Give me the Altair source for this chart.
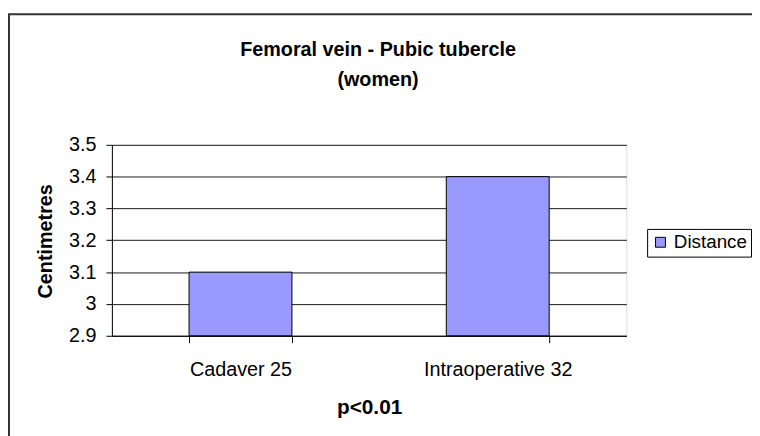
import altair as alt
import pandas as pd

categories = ["Cadaver 25", "Intraoperative 32"]
values = [3.1, 3.4]
series = ["Distance", "Distance"]
y_ticks = [2.9, 3.0, 3.1, 3.2, 3.3, 3.4, 3.5]

df = pd.DataFrame({"category": categories, "value": values, "series": series})

FONT = "Liberation Sans"

bars = alt.Chart(df).mark_bar(stroke="black", strokeWidth=1).encode(
    x=alt.X(
        "category:N",
        sort=categories,
        scale=alt.Scale(paddingInner=0.6, paddingOuter=0.3),
        axis=alt.Axis(
            title="p<0.01",
            labelAngle=0,
            labelFont=FONT,
            labelFontSize=20,
            labelColor="black",
            labelBaseline="alphabetic",
            labelPadding=33,
            tickBand="extent",
            tickSize=7,
            tickColor="black",
            domainColor="black",
            grid=False,
            titleFont=FONT,
            titleFontSize=21,
            titleFontWeight="bold",
            titleColor="black",
            titleBaseline="alphabetic",
            titleY=79,
        ),
    ),
    y=alt.Y(
        "value:Q",
        scale=alt.Scale(domain=[2.9, 3.5], nice=False, zero=False),
        axis=alt.Axis(
            title="Centimetres",
            values=y_ticks,
            format="~g",
            labelFont=FONT,
            labelFontSize=20,
            labelColor="black",
            labelPadding=10,
            tickSize=6,
            tickColor="black",
            domainColor="black",
            gridColor="#1a1a1a",
            gridWidth=1,
            titleFont=FONT,
            titleFontSize=20,
            titleFontWeight="bold",
            titleColor="black",
            titleAngle=270,
            titleBaseline="alphabetic",
            titleAlign="center",
            titleX=-61,
            titleY=97,
        ),
    ),
    y2=alt.datum(2.9),
    color=alt.Color(
        "series:N",
        scale=alt.Scale(range=["#9999FF"]),
        legend=alt.Legend(
            title=None,
            orient="none",
            legendX=541,
            legendY=85,
            fillColor="white",
            strokeColor="black",
            padding=4,
            symbolType="square",
            symbolSize=100,
            symbolStrokeColor="black",
            symbolStrokeWidth=1,
            labelFont=FONT,
            labelFontSize=19,
            labelColor="black",
            labelOffset=4,
        ),
    ),
)

border = alt.Chart(alt.Data(values=[{"a": 1}])).mark_rect(
    filled=False, stroke="#333333", strokeWidth=2, clip=False
).encode(
    x=alt.value(-104),
    x2=alt.value(720),
    y=alt.value(-132),
    y2=alt.value(320),
)

chart = alt.layer(border, bars).properties(
    width=520,
    height=193,
    padding={"left": 105, "top": 136, "right": 127, "bottom": 99},
    autosize=alt.AutoSizeParams(type="none"),
    title=alt.TitleParams(
        text=["Femoral vein - Pubic tubercle", "(women)"],
        font=FONT,
        fontSize=20,
        fontWeight="bold",
        color="black",
        anchor="middle",
        frame="group",
        lineHeight=31,
        offset=-78,
        dx=9,
    ),
).configure_view(
    fill="#C0C0C0", stroke="#808080", strokeWidth=1
).configure(background="white")

chart.save("out.html", embed_options={"renderer": "svg", "actions": False})
